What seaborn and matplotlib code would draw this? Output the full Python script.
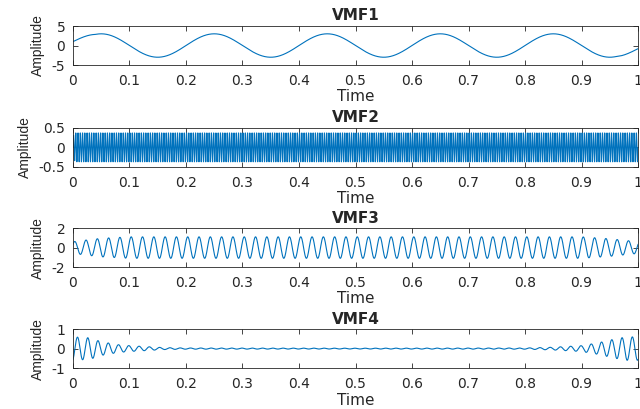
import numpy as np
import pandas as pd
import matplotlib
matplotlib.use("Agg")
import matplotlib.pyplot as plt
import seaborn as sns

# ======================
# Values
# ======================
titles = ["VMF1", "VMF2", "VMF3", "VMF4"]
centre_freqs = [5, 250, 50, 55]          # Hz, counted from the peaks
start_phase = [0.0, 0.0, 0.6, -1.2]      # rad, from the value at t = 0
y_limits = [(-5, 5), (-0.5, 0.5), (-2, 2), (-1, 1)]
y_ticks = [[-5, 0, 5], [-0.5, 0, 0.5], [-2, 0, 2], [-1, 0, 1]]
x_ticks = [0, 0.1, 0.2, 0.3, 0.4, 0.5, 0.6, 0.7, 0.8, 0.9, 1]
x_ticklabels = ["0", "0.1", "0.2", "0.3", "0.4", "0.5", "0.6", "0.7", "0.8", "0.9", "1"]

# envelope (peak amplitude) read at a few times for each mode
env_t1 = [0, 1]
env_a1 = [3.0, 3.0]
env_t2 = [0, 0.005, 1]
env_a2 = [0.3, 0.37, 0.37]
env_t3 = [0, 0.02, 0.05, 0.1, 0.9, 0.95, 1]
env_a3 = [0.6, 0.75, 0.95, 1.1, 1.1, 0.9, 0.6]
env_t4 = [0, 0.03, 0.05, 0.08, 0.1, 0.13, 0.16, 0.2, 0.5, 0.8, 0.85, 0.9, 0.93, 0.96, 0.98, 1]
env_a4 = [0.6, 0.55, 0.35, 0.2, 0.15, 0.1, 0.05, 0.03, 0.02, 0.03, 0.07, 0.15, 0.3, 0.5, 0.6, 0.6]

# slow drift of VMF1 near the edges (starts near 1, ends near -0.8)
drift_t1 = [0, 0.04, 0.96, 1]
drift_a1 = [1.0, 0.0, 0.0, -0.8]

envelopes = [(env_t1, env_a1), (env_t2, env_a2), (env_t3, env_a3), (env_t4, env_a4)]

line_color = "#0072BD"
frame_color = "#262626"

# ======================
# Build the modes
# ======================
t = np.linspace(0, 1, 4001)
modes = []
for k, ((et, ea), f, ph) in enumerate(zip(envelopes, centre_freqs, start_phase)):
    y = np.interp(t, et, ea) * np.sin(2 * np.pi * f * t + ph)
    if k == 0:
        y = y + np.interp(t, drift_t1, drift_a1)
    modes.append(pd.DataFrame({"Time": t, "Amplitude": y}))

# ======================
# Plot
# ======================
sns.set_style("ticks")
plt.rcParams["font.family"] = ["DejaVu Sans"]
plt.rcParams["xtick.direction"] = "in"
plt.rcParams["ytick.direction"] = "in"

fig = plt.figure(figsize=(6.4, 4.09), dpi=100)
bottoms = [0.841, 0.592, 0.347, 0.100]
for i, df in enumerate(modes):
    ax = fig.add_axes([0.114, bottoms[i], 0.883, 0.0954])
    sns.lineplot(data=df, x="Time", y="Amplitude", ax=ax, color=line_color, linewidth=0.8)
    ax.set_xlim(0, 1)
    ax.set_ylim(*y_limits[i])
    ax.set_xticks(x_ticks)
    ax.set_xticklabels(x_ticklabels)
    ax.set_yticks(y_ticks[i])
    ax.set_yticklabels([f"{v:g}" for v in y_ticks[i]])
    ax.tick_params(axis="both", labelsize=10, length=3.5, width=0.6, colors=frame_color,
                   top=True, right=True)
    ax.tick_params(axis="x", pad=6.5)
    ax.tick_params(axis="y", pad=5.5)
    for s in ax.spines.values():
        s.set_visible(True)
        s.set_linewidth(0.6)
        s.set_color(frame_color)
    ax.set_title(titles[i], fontsize=11, fontweight="bold", pad=4)
    ax.set_xlabel("Time", fontsize=11, labelpad=1)
    ax.set_ylabel("Amplitude", fontsize=10, labelpad=4.5, family=["Liberation Sans"])

fig.savefig("out.png", dpi=100)
